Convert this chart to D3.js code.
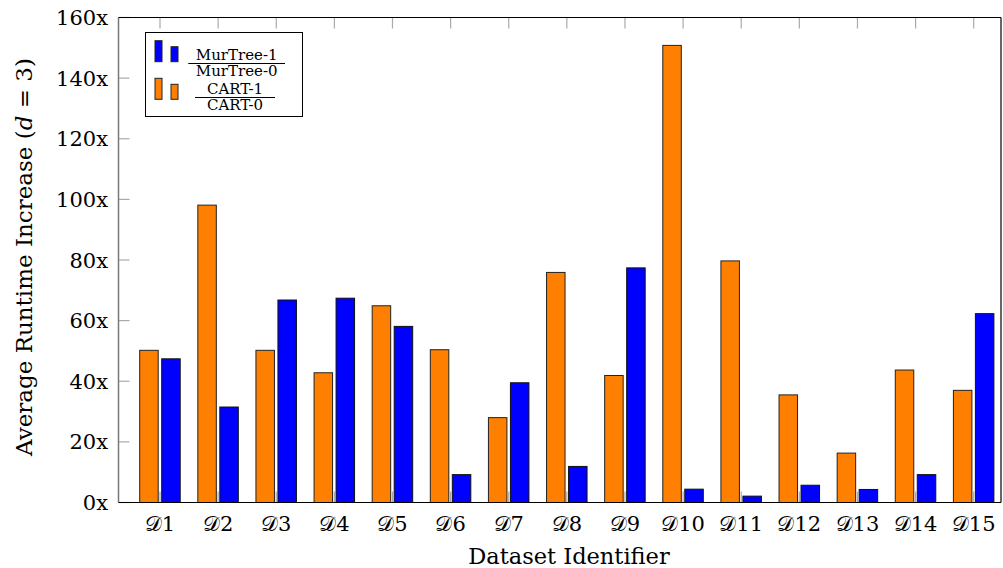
<!DOCTYPE html>
<html>
<head>
<meta charset="utf-8">
<script src="https://cdn.jsdelivr.net/npm/d3@7"></script>
<style>
  body { margin: 0; background: #fff; }
  svg text { font-family: "DejaVu Serif", "Liberation Serif", serif; fill: #000; }
</style>
</head>
<body>
<div id="chart"></div>
<script>
// data
const datasets = ["1","2","3","4","5","6","7","8","9","10","11","12","13","14","15"];
const cartRatio    = [50.2, 98.1, 50.2, 42.8, 64.9, 50.4, 28.0, 75.9, 41.9, 150.8, 79.7, 35.5, 16.3, 43.7, 37.0];
const murtreeRatio = [47.4, 31.5, 66.8, 67.4, 58.1, 9.2, 39.5, 11.9, 77.4, 4.4, 2.1, 5.7, 4.3, 9.2, 62.3];
const yTicks = [0, 20, 40, 60, 80, 100, 120, 140, 160];

const W = 1003, H = 568;
const plotL = 118.5, plotR = 1001, plotT = 17.5, plotB = 502.5;
const orange = "#ff8000", blue = "#0000ff";

const svg = d3.select("#chart").append("svg")
  .attr("width", W).attr("height", H);

const x = d3.scaleLinear().domain([1, 15]).range([160, 973.7]);
const y = d3.scaleLinear().domain([0, 160]).range([plotB, plotT]);
const barW = 18.5;

// ticks (grey, drawn inside)
const g = svg.append("g");
g.selectAll(".yt").data(yTicks).enter().append("line")
  .attr("x1", plotL).attr("x2", plotL + 11)
  .attr("y1", d => y(d)).attr("y2", d => y(d))
  .attr("stroke", "#aaa").attr("stroke-width", 1.2);
g.selectAll(".xt").data(datasets).enter().append("line")
  .attr("x1", (d, i) => x(i + 1)).attr("x2", (d, i) => x(i + 1))
  .attr("y1", plotT).attr("y2", plotT + 11)
  .attr("stroke", "#aaa").attr("stroke-width", 1.2);
g.selectAll(".xb").data(datasets).enter().append("line")
  .attr("x1", (d, i) => x(i + 1)).attr("x2", (d, i) => x(i + 1))
  .attr("y1", plotB).attr("y2", plotB - 11)
  .attr("stroke", "#aaa").attr("stroke-width", 1.2);

// bars
svg.append("g").selectAll("rect").data(cartRatio).enter().append("rect")
  .attr("x", (d, i) => x(i + 1) - 20.3)
  .attr("y", d => y(d))
  .attr("width", barW)
  .attr("height", d => plotB - y(d))
  .attr("fill", orange).attr("stroke", "#222").attr("stroke-width", 1);

svg.append("g").selectAll("rect").data(murtreeRatio).enter().append("rect")
  .attr("x", (d, i) => x(i + 1) + 1.7)
  .attr("y", d => y(d))
  .attr("width", barW)
  .attr("height", d => plotB - y(d))
  .attr("fill", blue).attr("stroke", "#111").attr("stroke-width", 1);

// frame
svg.append("line").attr("x1", plotL).attr("x2", plotL).attr("y1", plotT).attr("y2", plotB)
  .attr("stroke", "#777").attr("stroke-width", 1.5);
svg.append("line").attr("x1", plotL).attr("x2", plotR).attr("y1", plotT).attr("y2", plotT)
  .attr("stroke", "#000").attr("stroke-width", 1.2);
svg.append("line").attr("x1", plotL).attr("x2", plotR).attr("y1", plotB).attr("y2", plotB)
  .attr("stroke", "#000").attr("stroke-width", 1.2);
svg.append("line").attr("x1", plotR).attr("x2", plotR).attr("y1", plotT).attr("y2", plotB)
  .attr("stroke", "#000").attr("stroke-width", 1.2);

// tick labels
svg.append("g").selectAll("text").data(yTicks).enter().append("text")
  .attr("x", 108).attr("y", d => y(d) + 7.5)
  .attr("text-anchor", "end").attr("font-size", 21)
  .text(d => d + "x");

svg.append("g").selectAll("text").data(datasets).enter().append("text")
  .attr("x", (d, i) => x(i + 1)).attr("y", 531)
  .attr("text-anchor", "middle").attr("font-size", 21)
  .text(d => "\u{1D49F}" + d);

// axis titles
svg.append("text")
  .attr("transform", "translate(32,257) rotate(-90)")
  .attr("text-anchor", "middle").attr("font-size", 23)
  .html('Average Runtime Increase (<tspan font-style="italic">d</tspan> = 3)');

svg.append("text")
  .attr("x", 569).attr("y", 564)
  .attr("text-anchor", "middle").attr("font-size", 22.5)
  .text("Dataset Identifier");

// legend
const leg = svg.append("g");
leg.append("rect").attr("x", 145.5).attr("y", 32.5).attr("width", 157).attr("height", 84)
  .attr("fill", "#fff").attr("stroke", "#000").attr("stroke-width", 1);

const legendItems = [
  { color: blue, num: "MurTree-1", den: "MurTree-0", iconTop: 40.7, line: 63.5, x1: 188.3, x2: 285 },
  { color: orange, num: "CART-1", den: "CART-0", iconTop: 78.3, line: 97.5, x1: 195, x2: 275 }
];
legendItems.forEach(it => {
  const iconBottom = it.iconTop + 21;
  leg.append("rect").attr("x", 155).attr("y", it.iconTop).attr("width", 7).attr("height", iconBottom - it.iconTop)
    .attr("fill", it.color).attr("stroke", "#222").attr("stroke-width", 1);
  leg.append("rect").attr("x", 171).attr("y", iconBottom - 15).attr("width", 7).attr("height", 15)
    .attr("fill", it.color).attr("stroke", "#222").attr("stroke-width", 1);
  const cx = (it.x1 + it.x2) / 2;
  leg.append("text").attr("x", cx).attr("y", it.line - 4).attr("text-anchor", "middle")
    .attr("font-size", 15).text(it.num);
  leg.append("line").attr("x1", it.x1).attr("x2", it.x2).attr("y1", it.line).attr("y2", it.line)
    .attr("stroke", "#000").attr("stroke-width", 1);
  leg.append("text").attr("x", cx).attr("y", it.line + 12).attr("text-anchor", "middle")
    .attr("font-size", 15).text(it.den);
});
</script>
</body>
</html>
